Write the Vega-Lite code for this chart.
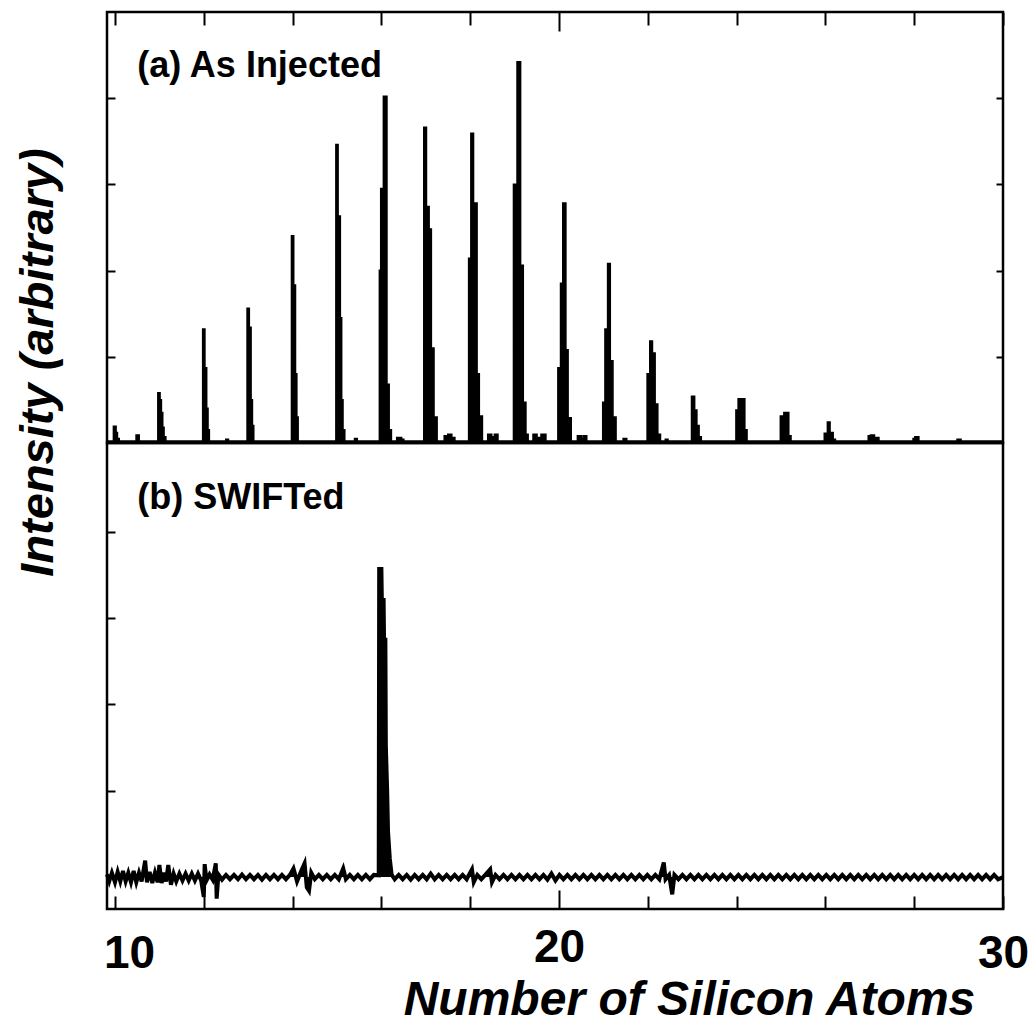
{
  "$schema": "https://vega.github.io/schema/vega-lite/v6.json",
  "padding": {"left": 12, "top": 9, "right": 5, "bottom": 5},
  "spacing": 0,
  "bounds": "flush",
  "config": {
    "view": {"stroke": "black", "strokeWidth": 2.5},
    "axis": {"domain": false, "grid": false, "tickColor": "black", "tickWidth": 2},
    "font": "Liberation Sans"
  },
  "datasets": {
    "top": [
      {"x": 9.82, "y": 0.02}, {"x": 9.97, "y": 0.19}, {"x": 10.02, "y": 0.12}, {"x": 10.05, "y": 0.05}, {"x": 10.09, "y": 0.02},
      {"x": 10.48, "y": 0.09}, {"x": 10.54, "y": 0.02},
      {"x": 10.97, "y": 0.58}, {"x": 11.01, "y": 0.5}, {"x": 11.04, "y": 0.35}, {"x": 11.07, "y": 0.18}, {"x": 11.1, "y": 0.07}, {"x": 11.14, "y": 0.02},
      {"x": 11.98, "y": 1.32}, {"x": 12.02, "y": 0.87}, {"x": 12.06, "y": 0.4}, {"x": 12.09, "y": 0.15}, {"x": 12.12, "y": 0.02},
      {"x": 12.5, "y": 0.04}, {"x": 12.55, "y": 0.02},
      {"x": 12.98, "y": 1.56}, {"x": 13.02, "y": 1.34}, {"x": 13.06, "y": 0.5}, {"x": 13.09, "y": 0.2}, {"x": 13.12, "y": 0.02},
      {"x": 13.98, "y": 2.4}, {"x": 14.02, "y": 1.83}, {"x": 14.06, "y": 0.8}, {"x": 14.09, "y": 0.3}, {"x": 14.12, "y": 0.02},
      {"x": 14.98, "y": 3.46}, {"x": 15.02, "y": 2.63}, {"x": 15.07, "y": 1.45}, {"x": 15.1, "y": 0.5}, {"x": 15.13, "y": 0.15}, {"x": 15.17, "y": 0.02},
      {"x": 15.4, "y": 0.05}, {"x": 15.45, "y": 0.02},
      {"x": 15.96, "y": 2.0}, {"x": 15.99, "y": 2.95}, {"x": 16.05, "y": 4.02}, {"x": 16.12, "y": 0.68}, {"x": 16.17, "y": 0.15}, {"x": 16.22, "y": 0.02},
      {"x": 16.35, "y": 0.06}, {"x": 16.45, "y": 0.04}, {"x": 16.5, "y": 0.02},
      {"x": 16.96, "y": 3.66}, {"x": 17.01, "y": 2.74}, {"x": 17.07, "y": 2.48}, {"x": 17.12, "y": 1.1}, {"x": 17.18, "y": 0.3}, {"x": 17.25, "y": 0.02},
      {"x": 17.42, "y": 0.08}, {"x": 17.5, "y": 0.1}, {"x": 17.58, "y": 0.06}, {"x": 17.65, "y": 0.02},
      {"x": 17.97, "y": 2.14}, {"x": 18.02, "y": 3.59}, {"x": 18.07, "y": 2.78}, {"x": 18.15, "y": 0.8}, {"x": 18.2, "y": 0.31}, {"x": 18.27, "y": 0.02},
      {"x": 18.4, "y": 0.1}, {"x": 18.48, "y": 0.07}, {"x": 18.55, "y": 0.1}, {"x": 18.62, "y": 0.02},
      {"x": 18.98, "y": 3.0}, {"x": 19.06, "y": 4.42}, {"x": 19.13, "y": 2.06}, {"x": 19.19, "y": 0.47}, {"x": 19.25, "y": 0.1}, {"x": 19.3, "y": 0.02},
      {"x": 19.42, "y": 0.1}, {"x": 19.5, "y": 0.06}, {"x": 19.6, "y": 0.1}, {"x": 19.7, "y": 0.02},
      {"x": 19.98, "y": 0.87}, {"x": 20.04, "y": 1.85}, {"x": 20.09, "y": 2.78}, {"x": 20.15, "y": 1.08}, {"x": 20.2, "y": 0.29}, {"x": 20.27, "y": 0.02},
      {"x": 20.42, "y": 0.08}, {"x": 20.5, "y": 0.05}, {"x": 20.55, "y": 0.08}, {"x": 20.62, "y": 0.02},
      {"x": 20.99, "y": 0.47}, {"x": 21.04, "y": 1.32}, {"x": 21.1, "y": 2.08}, {"x": 21.15, "y": 0.95}, {"x": 21.21, "y": 0.3}, {"x": 21.28, "y": 0.02},
      {"x": 21.45, "y": 0.05}, {"x": 21.52, "y": 0.02},
      {"x": 21.99, "y": 0.8}, {"x": 22.05, "y": 1.18}, {"x": 22.1, "y": 1.04}, {"x": 22.16, "y": 0.45}, {"x": 22.22, "y": 0.1}, {"x": 22.28, "y": 0.02},
      {"x": 22.4, "y": 0.04}, {"x": 22.45, "y": 0.02},
      {"x": 22.99, "y": 0.54}, {"x": 23.05, "y": 0.38}, {"x": 23.1, "y": 0.2}, {"x": 23.15, "y": 0.07}, {"x": 23.2, "y": 0.02},
      {"x": 23.99, "y": 0.38}, {"x": 24.04, "y": 0.51}, {"x": 24.09, "y": 0.3}, {"x": 24.13, "y": 0.51}, {"x": 24.18, "y": 0.15}, {"x": 24.23, "y": 0.02},
      {"x": 24.99, "y": 0.31}, {"x": 25.07, "y": 0.35}, {"x": 25.17, "y": 0.08}, {"x": 25.22, "y": 0.02},
      {"x": 25.98, "y": 0.11}, {"x": 26.05, "y": 0.24}, {"x": 26.1, "y": 0.12}, {"x": 26.17, "y": 0.04}, {"x": 26.22, "y": 0.02},
      {"x": 26.97, "y": 0.08}, {"x": 27.02, "y": 0.09}, {"x": 27.1, "y": 0.06}, {"x": 27.2, "y": 0.02},
      {"x": 27.98, "y": 0.05}, {"x": 28.02, "y": 0.07}, {"x": 28.1, "y": 0.02},
      {"x": 28.97, "y": 0.04}, {"x": 29.05, "y": 0.02},
      {"x": 30.0, "y": 0.02}
    ],
    "bottom": [
      {"x": 9.82, "y": 0.03}, {"x": 9.87, "y": -0.05}, {"x": 9.93, "y": 0.05}, {"x": 10.0, "y": -0.06}, {"x": 10.06, "y": 0.06}, {"x": 10.12, "y": -0.05},
      {"x": 10.18, "y": 0.07}, {"x": 10.24, "y": -0.05}, {"x": 10.3, "y": 0.05}, {"x": 10.36, "y": -0.06}, {"x": 10.42, "y": 0.07}, {"x": 10.48, "y": -0.06},
      {"x": 10.54, "y": 0.05}, {"x": 10.6, "y": -0.05}, {"x": 10.68, "y": 0.19}, {"x": 10.72, "y": -0.06}, {"x": 10.78, "y": 0.06}, {"x": 10.84, "y": -0.07},
      {"x": 10.9, "y": 0.05}, {"x": 10.96, "y": -0.06}, {"x": 11.0, "y": 0.14}, {"x": 11.05, "y": -0.07}, {"x": 11.1, "y": 0.05}, {"x": 11.15, "y": -0.05},
      {"x": 11.2, "y": 0.14}, {"x": 11.26, "y": -0.09}, {"x": 11.32, "y": 0.04}, {"x": 11.38, "y": -0.05}, {"x": 11.45, "y": 0.04}, {"x": 11.52, "y": -0.04},
      {"x": 11.59, "y": 0.04}, {"x": 11.66, "y": -0.04}, {"x": 11.73, "y": 0.04}, {"x": 11.8, "y": -0.04}, {"x": 11.87, "y": 0.04}, {"x": 11.94, "y": -0.04},
      {"x": 12.0, "y": -0.23}, {"x": 12.02, "y": 0.15}, {"x": 12.06, "y": -0.04}, {"x": 12.13, "y": 0.03}, {"x": 12.2, "y": -0.03}, {"x": 12.27, "y": 0.16},
      {"x": 12.29, "y": -0.25}, {"x": 12.33, "y": 0.03}, {"x": 12.41, "y": -0.03}, {"x": 12.5, "y": 0.025}, {"x": 12.59, "y": -0.025}, {"x": 12.68, "y": 0.025},
      {"x": 12.77, "y": -0.025}, {"x": 12.86, "y": 0.03}, {"x": 12.95, "y": -0.025}, {"x": 13.04, "y": 0.025}, {"x": 13.13, "y": -0.025}, {"x": 13.22, "y": 0.025},
      {"x": 13.31, "y": -0.03}, {"x": 13.4, "y": 0.025}, {"x": 13.49, "y": -0.025}, {"x": 13.58, "y": 0.025}, {"x": 13.67, "y": -0.025}, {"x": 13.76, "y": 0.025},
      {"x": 13.85, "y": -0.025}, {"x": 13.94, "y": 0.025}, {"x": 14.02, "y": 0.1}, {"x": 14.1, "y": -0.05}, {"x": 14.2, "y": 0.08}, {"x": 14.27, "y": 0.16},
      {"x": 14.32, "y": -0.12}, {"x": 14.37, "y": -0.16}, {"x": 14.42, "y": 0.05}, {"x": 14.5, "y": -0.025}, {"x": 14.59, "y": 0.025}, {"x": 14.68, "y": -0.025},
      {"x": 14.77, "y": 0.025}, {"x": 14.86, "y": -0.025}, {"x": 14.95, "y": 0.025}, {"x": 15.04, "y": -0.025}, {"x": 15.14, "y": 0.1}, {"x": 15.2, "y": -0.025},
      {"x": 15.29, "y": 0.025}, {"x": 15.38, "y": -0.025}, {"x": 15.47, "y": 0.025}, {"x": 15.56, "y": -0.025}, {"x": 15.65, "y": 0.025}, {"x": 15.74, "y": -0.025},
      {"x": 15.83, "y": 0.025}, {"x": 15.94, "y": 0.02},
      {"x": 15.95, "y": 3.57}, {"x": 16.0, "y": 3.57}, {"x": 16.01, "y": 3.21}, {"x": 16.05, "y": 3.21}, {"x": 16.06, "y": 2.75}, {"x": 16.09, "y": 2.75},
      {"x": 16.1, "y": 1.53}, {"x": 16.13, "y": 1.0}, {"x": 16.15, "y": 0.52}, {"x": 16.19, "y": 0.21}, {"x": 16.23, "y": 0.03},
      {"x": 16.3, "y": -0.025}, {"x": 16.39, "y": 0.025}, {"x": 16.48, "y": -0.025}, {"x": 16.57, "y": 0.025}, {"x": 16.66, "y": -0.03}, {"x": 16.75, "y": 0.025},
      {"x": 16.84, "y": -0.025}, {"x": 16.93, "y": 0.025}, {"x": 17.02, "y": -0.025}, {"x": 17.11, "y": 0.04}, {"x": 17.2, "y": -0.025}, {"x": 17.29, "y": 0.025},
      {"x": 17.38, "y": -0.025}, {"x": 17.47, "y": 0.025}, {"x": 17.56, "y": -0.025}, {"x": 17.65, "y": 0.025}, {"x": 17.74, "y": -0.025}, {"x": 17.83, "y": 0.025},
      {"x": 17.92, "y": -0.025}, {"x": 18.04, "y": 0.09}, {"x": 18.08, "y": -0.06}, {"x": 18.16, "y": 0.025}, {"x": 18.25, "y": -0.025}, {"x": 18.34, "y": 0.025},
      {"x": 18.45, "y": 0.09}, {"x": 18.49, "y": -0.06}, {"x": 18.57, "y": 0.025}, {"x": 18.66, "y": -0.025}, {"x": 18.75, "y": 0.025}, {"x": 18.84, "y": -0.025},
      {"x": 18.93, "y": 0.025}, {"x": 19.02, "y": -0.025}, {"x": 19.11, "y": 0.025}, {"x": 19.2, "y": -0.025}, {"x": 19.29, "y": 0.025}, {"x": 19.38, "y": -0.025},
      {"x": 19.47, "y": 0.025}, {"x": 19.56, "y": -0.025}, {"x": 19.65, "y": 0.025}, {"x": 19.74, "y": -0.03}, {"x": 19.83, "y": 0.04}, {"x": 19.92, "y": -0.04},
      {"x": 20.01, "y": 0.025}, {"x": 20.1, "y": -0.025}, {"x": 20.19, "y": 0.025}, {"x": 20.28, "y": -0.025}, {"x": 20.37, "y": 0.025}, {"x": 20.46, "y": -0.025},
      {"x": 20.55, "y": 0.025}, {"x": 20.64, "y": -0.025}, {"x": 20.73, "y": 0.025}, {"x": 20.82, "y": -0.025}, {"x": 20.91, "y": 0.025}, {"x": 21.0, "y": -0.025},
      {"x": 21.09, "y": 0.025}, {"x": 21.18, "y": -0.025}, {"x": 21.27, "y": 0.025}, {"x": 21.36, "y": -0.025}, {"x": 21.45, "y": 0.025}, {"x": 21.54, "y": -0.025},
      {"x": 21.63, "y": 0.025}, {"x": 21.72, "y": -0.025}, {"x": 21.81, "y": 0.025}, {"x": 21.9, "y": -0.025}, {"x": 21.99, "y": 0.025}, {"x": 22.08, "y": -0.025},
      {"x": 22.17, "y": 0.025}, {"x": 22.26, "y": -0.025}, {"x": 22.36, "y": 0.17}, {"x": 22.4, "y": -0.025}, {"x": 22.48, "y": 0.025}, {"x": 22.55, "y": -0.2},
      {"x": 22.6, "y": 0.025}, {"x": 22.69, "y": -0.025}, {"x": 22.78, "y": 0.025}, {"x": 22.87, "y": -0.025}, {"x": 22.96, "y": 0.025}, {"x": 23.05, "y": -0.025},
      {"x": 23.14, "y": 0.025}, {"x": 23.23, "y": -0.025}, {"x": 23.32, "y": 0.025}, {"x": 23.41, "y": -0.025}, {"x": 23.5, "y": 0.025}, {"x": 23.59, "y": -0.025},
      {"x": 23.68, "y": 0.025}, {"x": 23.77, "y": -0.025}, {"x": 23.86, "y": 0.025}, {"x": 23.95, "y": -0.025}, {"x": 24.04, "y": 0.025}, {"x": 24.13, "y": -0.025},
      {"x": 24.22, "y": 0.025}, {"x": 24.31, "y": -0.025}, {"x": 24.4, "y": 0.025}, {"x": 24.49, "y": -0.025}, {"x": 24.58, "y": 0.025}, {"x": 24.67, "y": -0.025},
      {"x": 24.76, "y": 0.025}, {"x": 24.85, "y": -0.025}, {"x": 24.94, "y": 0.025}, {"x": 25.03, "y": -0.025}, {"x": 25.12, "y": 0.025}, {"x": 25.21, "y": -0.025},
      {"x": 25.3, "y": 0.025}, {"x": 25.39, "y": -0.025}, {"x": 25.48, "y": 0.025}, {"x": 25.57, "y": -0.025}, {"x": 25.66, "y": 0.025}, {"x": 25.75, "y": -0.025},
      {"x": 25.84, "y": 0.025}, {"x": 25.93, "y": -0.025}, {"x": 26.02, "y": 0.025}, {"x": 26.11, "y": -0.025}, {"x": 26.2, "y": 0.025}, {"x": 26.29, "y": -0.025},
      {"x": 26.38, "y": 0.025}, {"x": 26.47, "y": -0.025}, {"x": 26.56, "y": 0.025}, {"x": 26.65, "y": -0.025}, {"x": 26.74, "y": 0.025}, {"x": 26.83, "y": -0.025},
      {"x": 26.92, "y": 0.025}, {"x": 27.01, "y": -0.025}, {"x": 27.1, "y": 0.025}, {"x": 27.19, "y": -0.025}, {"x": 27.28, "y": 0.025}, {"x": 27.37, "y": -0.025},
      {"x": 27.46, "y": 0.025}, {"x": 27.55, "y": -0.025}, {"x": 27.64, "y": 0.025}, {"x": 27.73, "y": -0.025}, {"x": 27.82, "y": 0.025}, {"x": 27.91, "y": -0.025},
      {"x": 28.0, "y": 0.025}, {"x": 28.09, "y": -0.025}, {"x": 28.18, "y": 0.025}, {"x": 28.27, "y": -0.025}, {"x": 28.36, "y": 0.025}, {"x": 28.45, "y": -0.025},
      {"x": 28.54, "y": 0.025}, {"x": 28.63, "y": -0.025}, {"x": 28.72, "y": 0.025}, {"x": 28.81, "y": -0.025}, {"x": 28.9, "y": 0.025}, {"x": 28.99, "y": -0.025},
      {"x": 29.08, "y": 0.025}, {"x": 29.17, "y": -0.025}, {"x": 29.26, "y": 0.025}, {"x": 29.35, "y": -0.025}, {"x": 29.44, "y": 0.025}, {"x": 29.53, "y": -0.025},
      {"x": 29.62, "y": 0.025}, {"x": 29.71, "y": -0.025}, {"x": 29.8, "y": 0.025}, {"x": 29.89, "y": -0.025}, {"x": 30.0, "y": 0.0}
    ]
  },
  "vconcat": [
    {
      "width": 896,
      "height": 431,
      "layer": [
        {
          "data": {"name": "top"},
          "mark": {"type": "area", "interpolate": "step-after", "color": "black", "fillOpacity": 1, "opacity": 1, "line": {"color": "black", "strokeWidth": 2}},
          "encoding": {
            "x": {
              "field": "x", "type": "quantitative",
              "scale": {"domain": [9.82, 30], "nice": false, "zero": false},
              "axis": {
                "orient": "top", "values": [10, 12, 14, 16, 18, 20, 22, 24, 26, 28, 30],
                "labels": false, "title": null,
                "tickSize": {"condition": {"test": "datum.value === 20", "value": -19}, "value": -13}
              }
            },
            "y": {
              "field": "y", "type": "quantitative",
              "scale": {"domain": [0, 5], "nice": false, "zero": false},
              "axis": {
                "orient": "left", "values": [1, 2, 3, 4], "labels": false, "tickSize": -8,
                "title": "Intensity (arbitrary)",
                "titleFont": "Liberation Sans", "titleFontSize": 47, "titleFontWeight": "bold", "titleFontStyle": "italic",
                "titleColor": "black", "titleAngle": -90, "titleAlign": "center", "titleBaseline": "middle",
                "titleX": -69, "titleY": 350
              }
            }
          }
        },
        {
          "data": {"values": [{}]},
          "mark": {"type": "text", "align": "left", "baseline": "alphabetic", "fontSize": 36, "fontWeight": "bold", "font": "Liberation Sans", "color": "black"},
          "encoding": {
            "x": {"datum": 10.5, "type": "quantitative"},
            "y": {
              "datum": 4.25, "type": "quantitative",
              "axis": {"orient": "right", "values": [1, 2, 3, 4], "labels": false, "tickSize": -7, "title": null}
            },
            "text": {"value": "(a) As Injected"}
          }
        }
      ],
      "resolve": {"axis": {"y": "independent"}}
    },
    {
      "width": 896,
      "height": 466,
      "layer": [
        {
          "data": {"name": "bottom"},
          "mark": {"type": "area", "interpolate": "linear", "color": "black", "fillOpacity": 1, "opacity": 1, "line": {"color": "black", "strokeWidth": 4}},
          "encoding": {
            "x": {
              "field": "x", "type": "quantitative",
              "scale": {"domain": [9.82, 30], "nice": false, "zero": false},
              "axis": {
                "orient": "bottom", "values": [10, 12, 14, 16, 18, 20, 22, 24, 26, 28, 30],
                "labelExpr": "datum.value % 10 === 0 ? datum.label : ''",
                "labelFont": "Liberation Sans", "labelFontSize": 46, "labelFontWeight": "bold", "labelColor": "black",
                "labelBaseline": "alphabetic", "labelPadding": 71, "labelOverlap": false, "labelBound": false, "labelFlush": false,
                "labelAlign": "center",
                "labelOffset": {"condition": {"test": "datum.value === 10", "value": 14}, "value": 0},
                "tickSize": {"condition": {"test": "datum.value === 20", "value": -19}, "value": -13},
                "title": "Number of Silicon Atoms",
                "titleFont": "Liberation Sans", "titleFontSize": 48, "titleFontWeight": "bold", "titleFontStyle": "italic",
                "titleColor": "black", "titleAlign": "center", "titleBaseline": "alphabetic",
                "titleX": 582, "titleY": 105
              }
            },
            "y": {
              "field": "y", "type": "quantitative",
              "scale": {"domain": [-0.37, 5.03], "nice": false, "zero": false},
              "axis": {"orient": "left", "values": [1, 2, 3, 4], "labels": false, "tickSize": -8, "title": null}
            }
          }
        },
        {
          "data": {"values": [{}]},
          "mark": {"type": "text", "align": "left", "baseline": "alphabetic", "fontSize": 36, "fontWeight": "bold", "font": "Liberation Sans", "color": "black"},
          "encoding": {
            "x": {"datum": 10.5, "type": "quantitative"},
            "y": {"datum": 4.26, "type": "quantitative"},
            "text": {"value": "(b) SWIFTed"}
          }
        }
      ]
    }
  ]
}
